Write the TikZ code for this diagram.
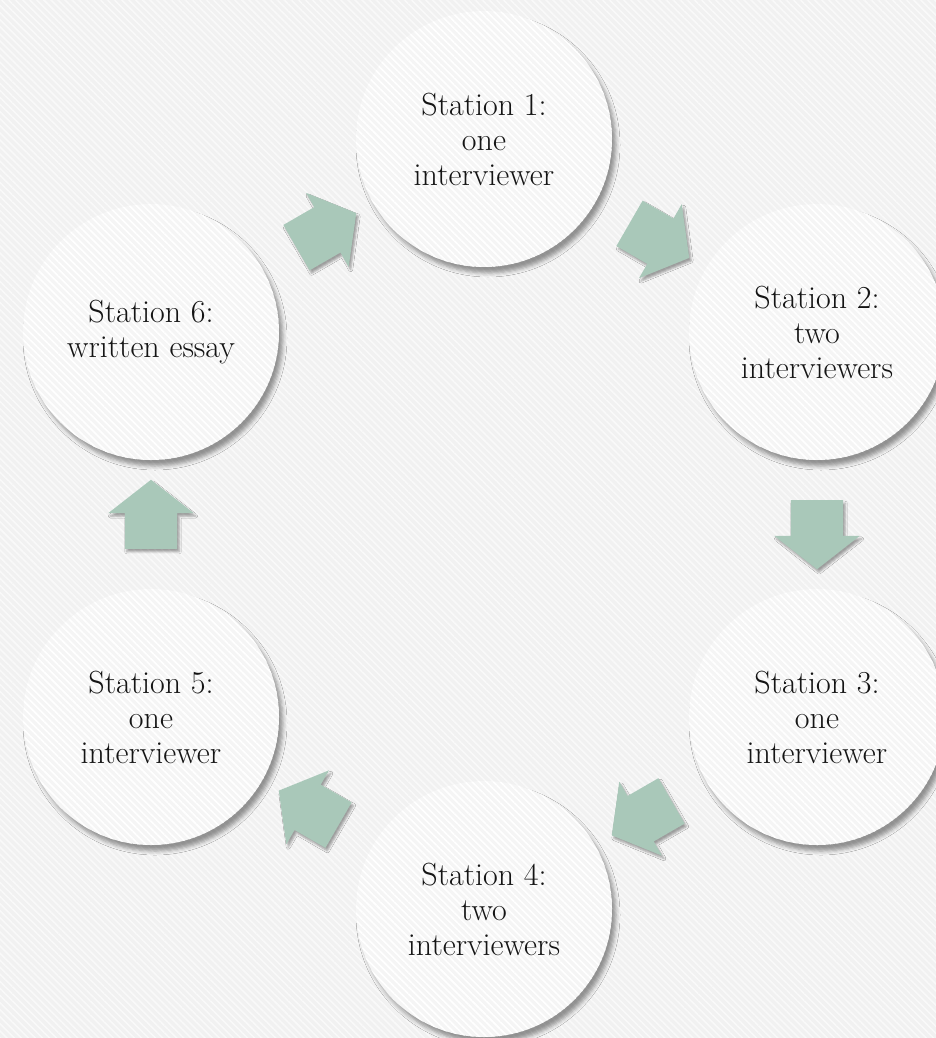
\documentclass[tikz,border=0pt]{standalone}
\usepackage{tikz}
\usetikzlibrary{shapes.arrows, shadows.blur, calc, patterns.meta}
\definecolor{paper}{HTML}{F1F1F1}
\definecolor{disc}{HTML}{F5F5F5}
\definecolor{sage}{HTML}{A9C8B9}
\definecolor{ink}{HTML}{141414}
\tikzset{>=latex}

\begin{document}
\begin{tikzpicture}[x=1pt, y=-1pt,
    station/.style={circle, minimum size=256pt, inner sep=0pt, fill=disc, text=ink, align=center, font=\fontsize{32}{35}\selectfont,
        blur shadow={shadow xshift=4pt, shadow yshift=-6pt, shadow blur radius=4pt, shadow opacity=40},
        postaction={pattern={Lines[angle=-45, distance=5pt, line width=1.6pt]}, pattern color=white}},
    flow/.style={single arrow, fill=sage, minimum height=69pt, inner xsep=0pt, inner ysep=26pt,
        single arrow head extend=16.5pt, single arrow tip angle=104,
        blur shadow={shadow xshift=2pt, shadow yshift=-3pt, shadow blur radius=2pt, shadow opacity=35}}]
    \useasboundingbox (0,0) rectangle (936,1038);
    \fill[paper] (0,0) rectangle (936,1038);
    \fill[pattern={Lines[angle=-45, distance=5pt, line width=1.6pt]}, pattern color=white!60!paper] (0,0) rectangle (936,1038);
    % the six stations, round a hexagon
    \node[station] (s1) at (484,139) {Station 1:\\one\\interviewer};
    \node[station] (s2) at (817,332) {Station 2:\\two\\interviewers};
    \node[station] (s3) at (817,717) {Station 3:\\one\\interviewer};
    \node[station] (s4) at (484,909) {Station 4:\\two\\interviewers};
    \node[station] (s5) at (151,717) {Station 5:\\one\\interviewer};
    \node[station] (s6) at (151,332) {Station 6:\\written essay};
    % block arrows between them
    \node[flow, rotate=-30] (a12) at ($(s1)!0.5!(s2)$) {};
    \node[flow, rotate=-90] (a23) at ($(s2)!0.5!(s3)$) {};
    \node[flow, rotate=-150] (a34) at ($(s3)!0.5!(s4)$) {};
    \node[flow, rotate=150] (a45) at ($(s4)!0.5!(s5)$) {};
    \node[flow, rotate=90] (a56) at ($(s5)!0.5!(s6)$) {};
    \node[flow, rotate=30] (a61) at ($(s6)!0.5!(s1)$) {};
\end{tikzpicture}
\end{document}
